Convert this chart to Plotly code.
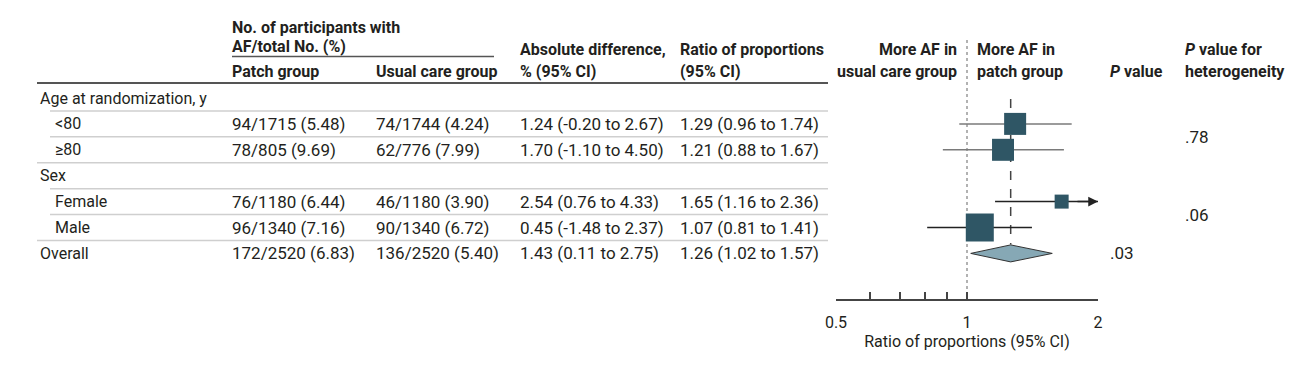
import math
import plotly.graph_objects as go

W, H = 1297, 365

# ---------------- data ----------------
row_labels = ["Age at randomization, y", "<80", "≥80", "Sex", "Female", "Male", "Overall"]
row_kind = ["group", "sub", "sub", "group", "sub", "sub", "overall"]

patch_events = [94, 78, 76, 96, 172]
patch_total = [1715, 805, 1180, 1340, 2520]
patch_pct = [5.48, 9.69, 6.44, 7.16, 6.83]
usual_events = [74, 62, 46, 90, 136]
usual_total = [1744, 776, 1180, 1340, 2520]
usual_pct = [4.24, 7.99, 3.90, 6.72, 5.40]
abs_diff = [1.24, 1.70, 2.54, 0.45, 1.43]
abs_lo = [-0.20, -1.10, 0.76, -1.48, 0.11]
abs_hi = [2.67, 4.50, 4.33, 2.37, 2.75]
ratio = [1.29, 1.21, 1.65, 1.07, 1.26]
ratio_lo = [0.96, 0.88, 1.16, 0.81, 1.02]
ratio_hi = [1.74, 1.67, 2.36, 1.41, 1.57]
p_overall = ".03"
p_heterogeneity = [".78", ".06"]

tick_vals = [0.5, 0.6, 0.7, 0.8, 0.9, 1, 2]
tick_text = ["0.5", "", "", "", "", "1", "2"]
axis_min, axis_max = 0.5, 2

# ---------------- style ----------------
FONT = "Roboto"
FS = 16      # labels / headers
FSN = 17     # numeric cells
TXT = "#231f20"
square_sizes = [22, 22, 14, 28]
ci_colors = ["#7a7a7a", "#7a7a7a", "#222222", "#222222"]
SQ_COLOR = "#2f5665"
DIAMOND_FILL = "#86a8b5"

row_top = 98
row_h = 25.9
row_y = [row_top + i * row_h for i in range(len(row_labels))]

col_label_group = 40
col_label_sub = 55
col_patch = 232
col_usual = 376
col_abs = 520
col_ratio = 680
col_p = 1110
col_phet = 1185
table_right = 828

def px(x):
    return x / W

fig = go.Figure()

annotations = []

def text(x, y, s, anchor="left", bold=False, size=FS):
    if bold:
        s = "<b>" + s + "</b>"
    annotations.append(dict(
        x=px(x), y=y, xref="paper", yref="y", text=s, showarrow=False,
        xanchor=anchor, yanchor="middle", borderpad=0, borderwidth=0,
        font=dict(family=FONT, size=size, color=TXT)))

# headers
text(col_patch, 27, "No. of participants with", bold=True)
text(col_patch, 46, "AF/total No. (%)", bold=True)
text(col_patch, 71, "Patch group", bold=True)
text(col_usual, 71, "Usual care group", bold=True)
text(col_abs, 49, "Absolute difference,", bold=True)
text(col_abs, 71, "% (95% CI)", bold=True)
text(col_ratio, 49, "Ratio of proportions", bold=True)
text(col_ratio, 71, "(95% CI)", bold=True)
text(957, 49, "More AF in", anchor="right", bold=True)
text(957, 71, "usual care group", anchor="right", bold=True)
text(977, 49, "More AF in", bold=True)
text(977, 71, "patch group", bold=True)
text(col_p, 71, "<i>P</i> value", bold=True)
text(col_phet, 49, "<i>P</i> value for", bold=True)
text(col_phet, 71, "heterogeneity", bold=True)

# table rows
data_rows = [i for i, k in enumerate(row_kind) if k != "group"]
for i, lab in enumerate(row_labels):
    x = col_label_sub if row_kind[i] == "sub" else col_label_group
    text(x, row_y[i], lab.replace("<", "&lt;"))

for j, i in enumerate(data_rows):
    y = row_y[i]
    text(col_patch, y, f"{patch_events[j]}/{patch_total[j]} ({patch_pct[j]:.2f})", size=FSN)
    text(col_usual, y, f"{usual_events[j]}/{usual_total[j]} ({usual_pct[j]:.2f})", size=FSN)
    text(col_abs, y, f"{abs_diff[j]:.2f} ({abs_lo[j]:.2f} to {abs_hi[j]:.2f})", size=FSN)
    text(col_ratio, y, f"{ratio[j]:.2f} ({ratio_lo[j]:.2f} to {ratio_hi[j]:.2f})", size=FSN)

# p values
text(col_p, row_y[-1], p_overall, size=FSN)
text(col_phet, (row_y[1] + row_y[2]) / 2, p_heterogeneity[0], size=FSN)
text(col_phet, (row_y[4] + row_y[5]) / 2, p_heterogeneity[1], size=FSN)

# table lines
shapes = []
shapes.append(dict(type="line", xref="paper", yref="y", x0=px(37), x1=px(table_right),
                   y0=83, y1=83, line=dict(color="#555555", width=2)))
shapes.append(dict(type="line", xref="paper", yref="y", x0=px(col_patch), x1=px(494),
                   y0=56.5, y1=56.5, line=dict(color="#555555", width=1.5)))
for i in range(len(row_labels) - 1):
    ysep = (row_y[i] + row_y[i + 1]) / 2
    full = row_kind[i + 1] != "sub"
    shapes.append(dict(type="line", xref="paper", yref="y",
                       x0=px(37 if full else 50), x1=px(table_right),
                       y0=ysep, y1=ysep, line=dict(color="#cfcfcf", width=1.5)))

# reference lines
fig.add_trace(go.Scatter(x=[1, 1], y=[40, 299], mode="lines",
                         line=dict(color="#999999", width=1.5, dash="dot"),
                         hoverinfo="skip", showlegend=False))
overall_y = row_y[-1]
fig.add_trace(go.Scatter(x=[ratio[-1], ratio[-1]], y=[99, overall_y - 9], mode="lines",
                         line=dict(color="#444444", width=1.5, dash="dash"),
                         hoverinfo="skip", showlegend=False))

# CI lines and squares
sub_rows = data_rows[:-1]
for j, i in enumerate(sub_rows):
    y = row_y[i]
    hi = min(ratio_hi[j], axis_max)
    fig.add_trace(go.Scatter(x=[ratio_lo[j], hi], y=[y, y], mode="lines",
                             line=dict(color=ci_colors[j], width=1.5),
                             hoverinfo="skip", showlegend=False))
    if ratio_hi[j] > axis_max:
        annotations.append(dict(x=math.log10(axis_max), y=y, xref="x", yref="y",
                                ax=-22, ay=0, axref="pixel", ayref="pixel",
                                showarrow=True, arrowhead=2, arrowsize=1.3,
                                arrowwidth=1.5, arrowcolor="#222222", text=""))
fig.add_trace(go.Scatter(
    x=ratio[:-1], y=[row_y[i] for i in sub_rows], mode="markers",
    marker=dict(symbol="square", size=square_sizes, color=SQ_COLOR, opacity=1,
                line=dict(width=0)),
    hoverinfo="x", showlegend=False))

# overall diamond
dh = 8.5
fig.add_trace(go.Scatter(
    x=[ratio_lo[-1], ratio[-1], ratio_hi[-1], ratio[-1], ratio_lo[-1]],
    y=[overall_y, overall_y - dh, overall_y, overall_y + dh, overall_y],
    mode="lines", fill="toself", fillcolor=DIAMOND_FILL,
    line=dict(color="#333333", width=1), hoverinfo="skip", showlegend=False))

fig.update_layout(
    width=W, height=H, margin=dict(l=0, r=0, t=0, b=0, autoexpand=False),
    paper_bgcolor="white", plot_bgcolor="white",
    font=dict(family=FONT, size=FS, color=TXT),
    annotations=annotations, shapes=shapes, showlegend=False,
    xaxis=dict(type="log", domain=[px(836), px(1098)], automargin=False,
               range=[math.log10(axis_min), math.log10(axis_max)],
               showline=True, linecolor="#444444", linewidth=1.5,
               ticks="inside", ticklen=7, tickwidth=1.5, tickcolor="#444444",
               tickvals=tick_vals, ticktext=tick_text,
               ticklabelstandoff=8,
               tickfont=dict(family=FONT, size=FS, color=TXT),
               showgrid=False, zeroline=False,
               title=dict(text="Ratio of proportions (95% CI)", standoff=5,
                          font=dict(family=FONT, size=FS, color=TXT))),
    yaxis=dict(domain=[(H - 299) / H, 1], range=[299, 0], visible=False,
               automargin=False, showgrid=False, zeroline=False),
)

fig.write_html("out.html", post_script="document.body.style.margin='0';",
               config={"displayModeBar": False})
